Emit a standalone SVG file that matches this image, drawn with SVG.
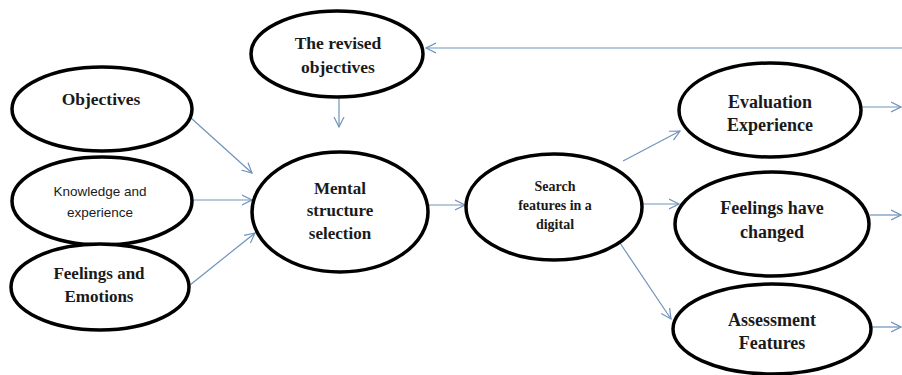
<svg xmlns="http://www.w3.org/2000/svg" width="902" height="375" viewBox="0 0 902 375">
<defs>
<marker id="ah" markerUnits="userSpaceOnUse" markerWidth="12" markerHeight="12" refX="10" refY="5" orient="auto" viewBox="0 0 12 10">
<path d="M0,0 L10,5 L0,10" fill="none" stroke="#6f93bb" stroke-width="1.2"/>
</marker>
<style>
.n ellipse{fill:#fff;stroke:#000;stroke-width:3.5}
.t{font-family:"Liberation Serif","Times New Roman",serif;font-weight:bold;fill:#1a1a1a;text-anchor:middle}
.s{font-family:"Liberation Sans",Arial,sans-serif;fill:#1a1a1a;text-anchor:middle}
.c line{stroke:#6f93bb;stroke-width:1.2;marker-end:url(#ah)}
</style>
</defs>
<rect width="902" height="375" fill="#fff"/>
<g class="c" id="connectors">
<line x1="902" y1="48" x2="426" y2="48"/>
<line x1="339" y1="97" x2="339" y2="127"/>
<line x1="191" y1="118" x2="252" y2="173"/>
<line x1="192" y1="200" x2="252" y2="200"/>
<line x1="190" y1="285" x2="255" y2="233"/>
<line x1="428" y1="205" x2="465" y2="205"/>
<line x1="623" y1="161" x2="680" y2="131"/>
<line x1="643" y1="204" x2="679" y2="204"/>
<line x1="620" y1="243" x2="671" y2="319"/>
<line x1="862" y1="107" x2="901" y2="107"/>
<line x1="870" y1="215" x2="901" y2="215"/>
<line x1="871" y1="327" x2="901" y2="327"/>
</g>
<g class="n" id="revised">
<ellipse cx="337" cy="54" rx="86" ry="43"/>
<text class="t" font-size="17.5" x="338" y="49">The revised</text>
<text class="t" font-size="17.5" x="338" y="73">objectives</text>
</g>
<g class="n" id="objectives">
<ellipse cx="102" cy="109" rx="90" ry="42"/>
<text class="t" font-size="17.5" x="101" y="105">Objectives</text>
</g>
<g class="n" id="knowledge">
<ellipse cx="102" cy="201" rx="90" ry="44"/>
<text class="s" font-size="13.5" x="100" y="196">Knowledge and</text>
<text class="s" font-size="13.5" x="100" y="217">experience</text>
</g>
<g class="n" id="feelings">
<ellipse cx="100" cy="287" rx="89" ry="43"/>
<text class="t" font-size="17" x="99" y="279">Feelings and</text>
<text class="t" font-size="17" x="99" y="302">Emotions</text>
</g>
<g class="n" id="mental">
<ellipse cx="340" cy="212" rx="88" ry="60"/>
<text class="t" font-size="17" x="340" y="194">Mental</text>
<text class="t" font-size="17" x="340" y="216">structure</text>
<text class="t" font-size="17" x="340" y="239">selection</text>
</g>
<g class="n" id="search">
<ellipse cx="554" cy="207" rx="88" ry="53"/>
<text class="t" font-size="14" x="555" y="191">Search</text>
<text class="t" font-size="14" x="555" y="210">features in a</text>
<text class="t" font-size="14" x="555" y="229">digital</text>
</g>
<g class="n" id="evaluation">
<ellipse cx="770" cy="110" rx="91" ry="47"/>
<text class="t" font-size="18" x="770" y="108">Evaluation</text>
<text class="t" font-size="18" x="770" y="131">Experience</text>
</g>
<g class="n" id="changed">
<ellipse cx="772" cy="224" rx="97" ry="52"/>
<text class="t" font-size="18" x="772" y="214">Feelings have</text>
<text class="t" font-size="18" x="772" y="238">changed</text>
</g>
<g class="n" id="assessment">
<ellipse cx="772" cy="329" rx="99" ry="45"/>
<text class="t" font-size="18" x="772" y="326">Assessment</text>
<text class="t" font-size="18" x="772" y="349">Features</text>
</g>
</svg>
